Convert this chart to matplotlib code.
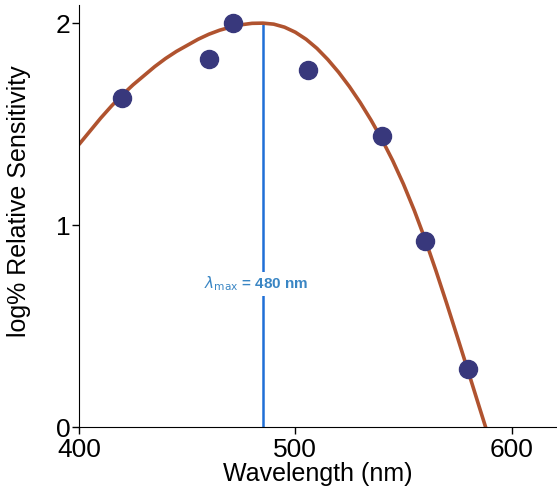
import matplotlib
matplotlib.use("Agg")
import matplotlib.pyplot as plt

plt.rcParams['font.family'] = ['Liberation Sans', 'DejaVu Sans']

# measured sensitivity (dots)
wl_points = [420, 460, 471, 506, 540, 560, 580]
sens_points = [1.63, 1.82, 2.00, 1.77, 1.44, 0.92, 0.29]

# fitted curve
wl_curve = [400, 405, 410, 415, 420, 425, 430, 435, 440, 445, 450, 455, 460,
            465, 470, 475, 480, 485, 490, 495, 500, 505, 510, 515, 520, 525,
            530, 535, 540, 545, 550, 555, 560, 565, 570, 575, 580, 585, 588]
sens_curve = [1.400, 1.465, 1.530, 1.590, 1.645, 1.695, 1.740, 1.785, 1.825,
              1.860, 1.890, 1.920, 1.945, 1.965, 1.980, 1.992, 1.999, 2.000,
              1.995, 1.980, 1.955, 1.920, 1.875, 1.820, 1.757, 1.686, 1.607,
              1.520, 1.425, 1.320, 1.203, 1.073, 0.930, 0.775, 0.612, 0.444,
              0.274, 0.102, 0.000]

lambda_max_pos = 485
lambda_max_label = "480 nm"

fig = plt.figure(figsize=(5.57, 4.95), dpi=100)
ax = fig.add_axes([0.142, 0.137, 0.858, 0.853])

ax.plot(wl_curve, sens_curve, color='#b0532f', lw=2.6, zorder=2,
        solid_joinstyle='round', solid_capstyle='round')
ax.plot(wl_points, sens_points, 'o', color='#38387c', ms=13, zorder=3)
ax.plot([lambda_max_pos, lambda_max_pos], [0, 2.0], color='#1f6fd6', lw=1.8, zorder=1)

ax.text(lambda_max_pos - 3, 0.71, r"$\lambda_{\rm max}$ = " + lambda_max_label,
        color='#3a86c4', fontsize=11, fontweight='bold', ha='center', va='center',
        bbox=dict(facecolor='white', edgecolor='none', pad=2), zorder=4)

ax.set_xlim(400, 621)
ax.set_ylim(0, 2.09)
ax.set_xticks([400, 500, 600])
ax.set_yticks([0, 1, 2])
ax.tick_params(labelsize=19, length=5, width=1)
ax.tick_params(axis='y', pad=1)
ax.tick_params(axis='x', pad=3)
ax.spines['top'].set_visible(False)
ax.spines['right'].set_visible(False)
ax.set_xlabel("Wavelength (nm)", fontsize=18, labelpad=0)
ax.set_ylabel("log% Relative Sensitivity", fontsize=18, labelpad=14)
ax.yaxis.set_label_coords(-0.1, 0.535)

fig.savefig("out.png", dpi=100)
